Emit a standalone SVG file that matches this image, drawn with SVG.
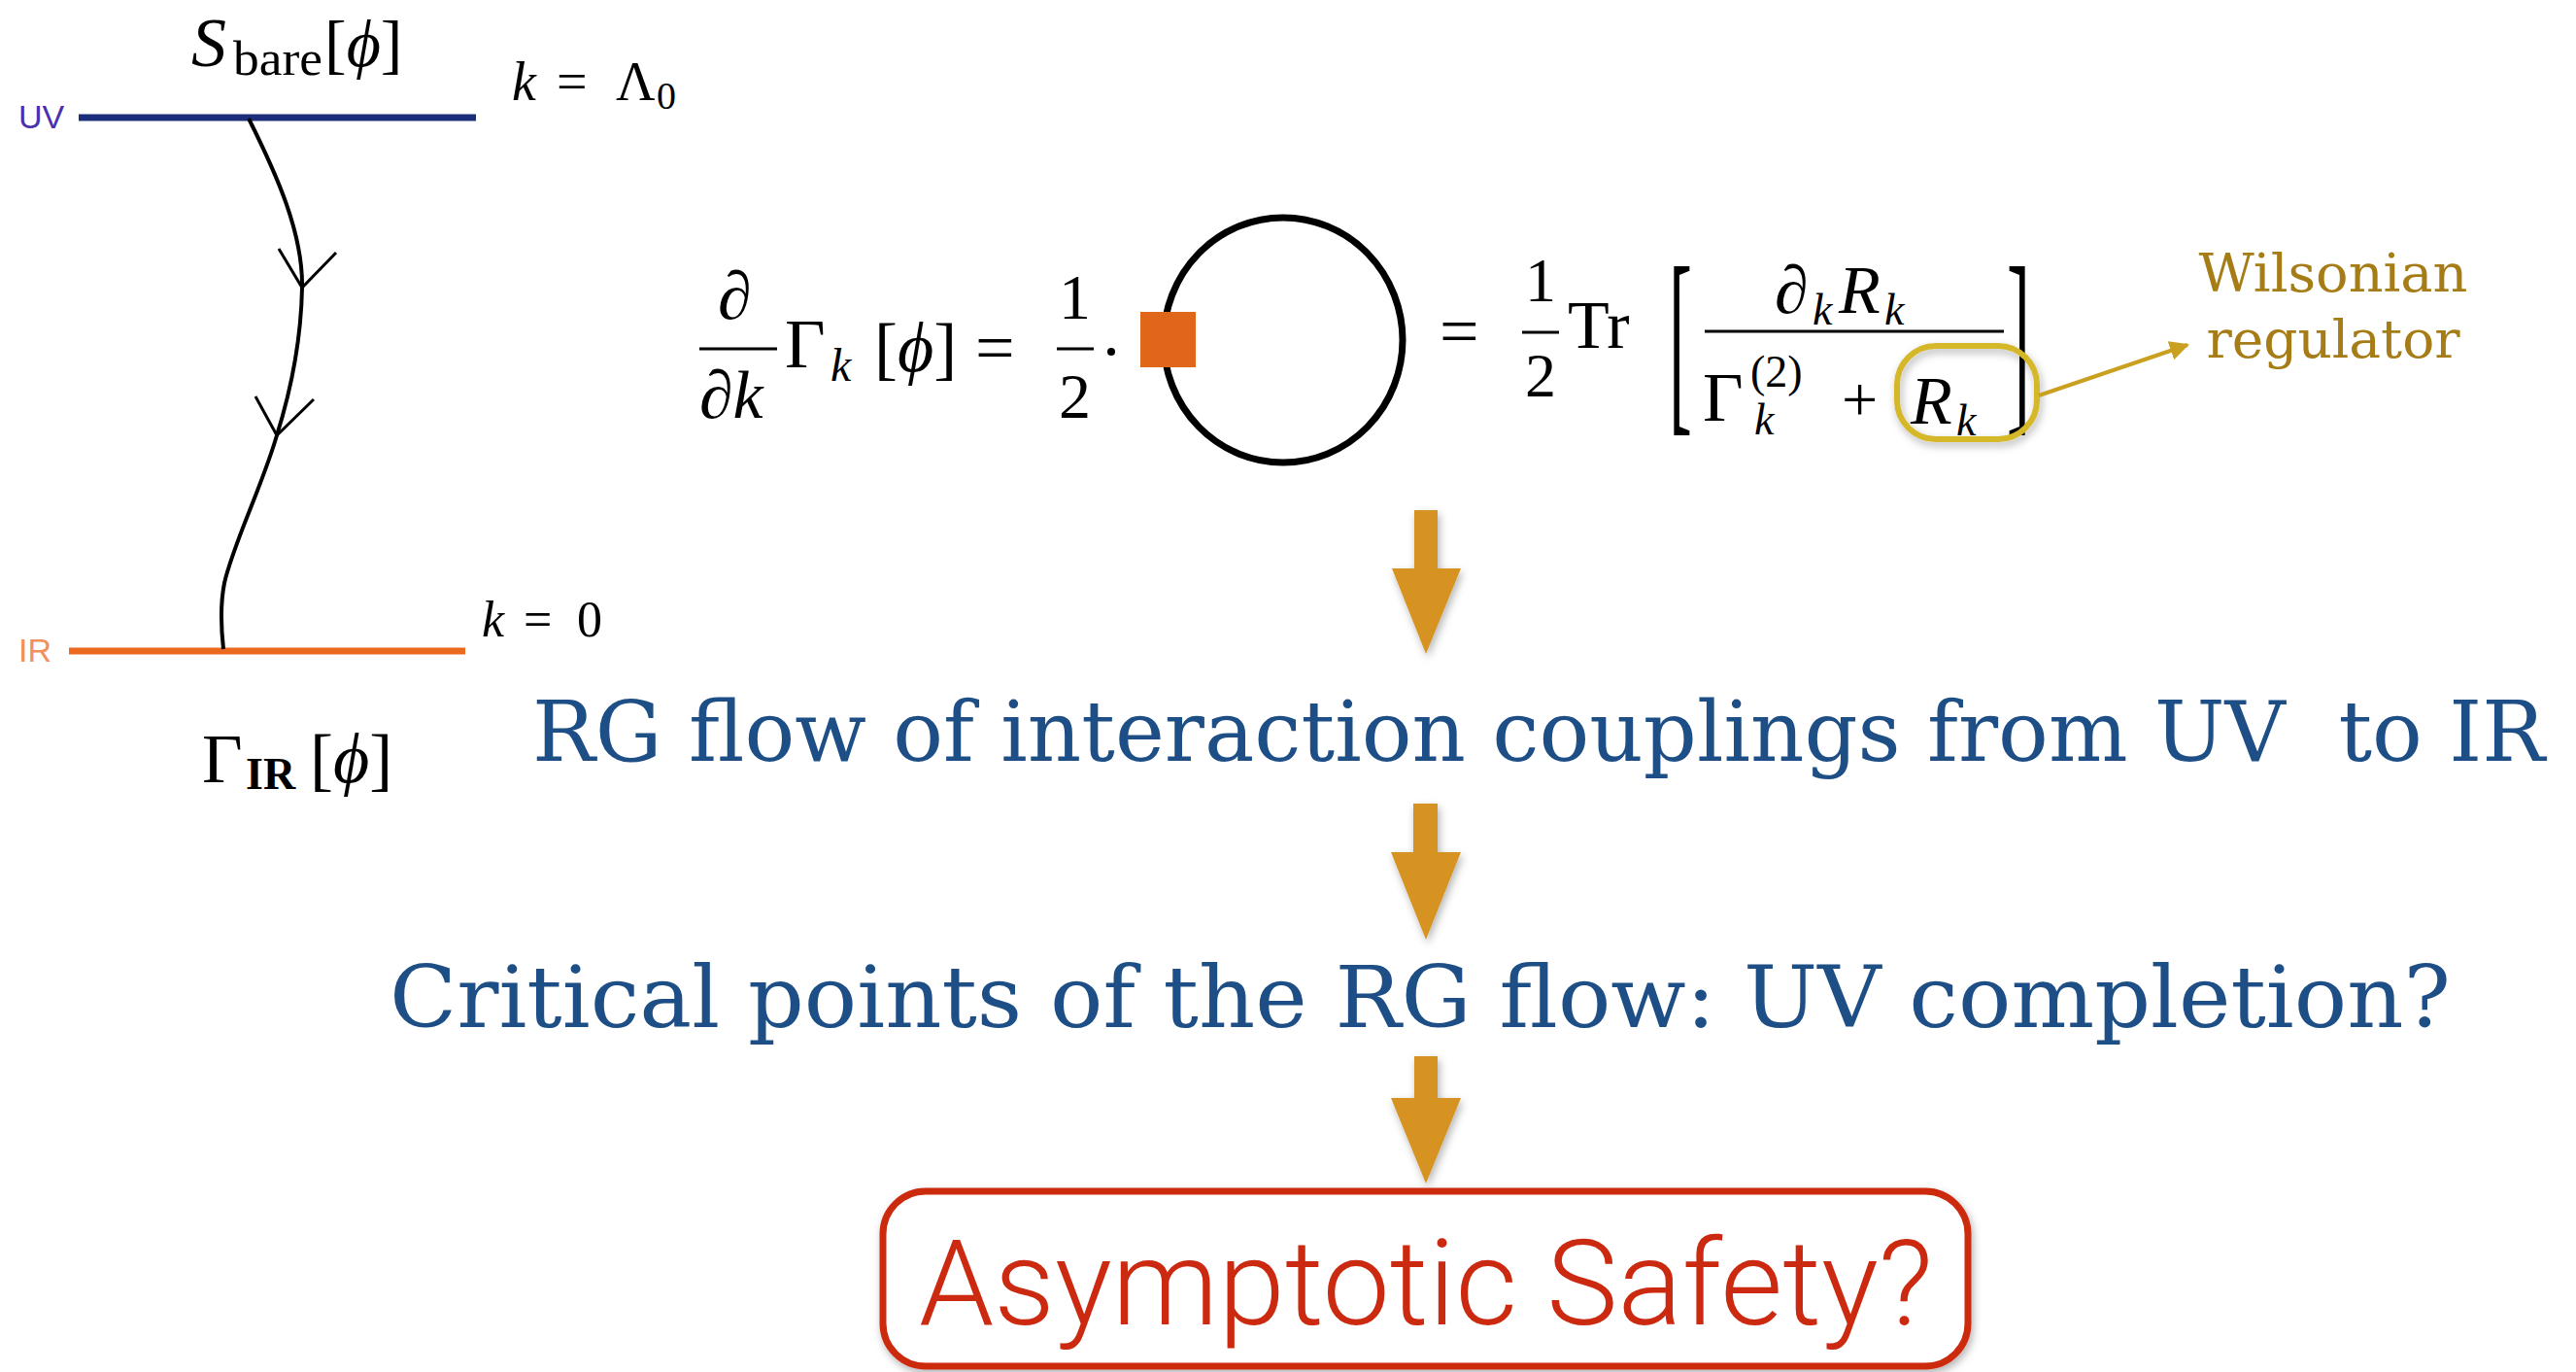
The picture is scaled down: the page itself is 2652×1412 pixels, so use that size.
<svg xmlns="http://www.w3.org/2000/svg" width="2652" height="1412" viewBox="0 0 2652 1412">
<style>
.m{font-family:"Liberation Serif","DejaVu Serif",serif;fill:#000}
.i{font-style:italic}
.slab{font-family:"DejaVu Serif","Liberation Serif",serif;fill:#1d4f86}
.lbl{font-family:"Liberation Sans",Arial,sans-serif}
.gold{font-family:"DejaVu Serif","Liberation Serif",serif;fill:#a67c16}
.bar{stroke:#000;stroke-width:3}
.down{fill:#d69324}
</style>
<defs>
<filter id="sh" x="-20%" y="-20%" width="140%" height="140%">
<feDropShadow dx="2" dy="4" stdDeviation="4" flood-color="#000" flood-opacity="0.3"/>
</filter>
<marker id="ah" viewBox="0 0 10 10" refX="9" refY="5" markerWidth="5" markerHeight="5" orient="auto" markerUnits="strokeWidth">
<path d="M0,0 L10,5 L0,10 z" fill="#c9a020"/>
</marker>
</defs>
<rect width="2652" height="1412" fill="#fff"/>

<g id="flow-diagram">
<text class="lbl" x="19" y="132" font-size="34" fill="#4b2fb0">UV</text>
<line x1="81" y1="121" x2="490" y2="121" stroke="#1c2e7a" stroke-width="7"/>
<text class="lbl" x="19" y="681" font-size="34" fill="#f0905a">IR</text>
<line x1="71" y1="670" x2="479" y2="670" stroke="#ec6a20" stroke-width="7"/>
<path d="M256,122 C285,180 312,240 311,296 C310,350 300,400 285,448 C270,500 240,560 231,600 C226,625 228,650 230,668" fill="none" stroke="#000" stroke-width="4"/>
<path d="M287,256 L311,296 L346,260 M263,408 L285,448 L323,411" fill="none" stroke="#000" stroke-width="3"/>
<text class="m i" x="197" y="68" font-size="72">S</text>
<text class="m" x="240" y="77" font-size="50" textLength="92" lengthAdjust="spacingAndGlyphs">bare</text>
<text class="m" x="334" y="68" font-size="68">[<tspan class="i">ϕ</tspan>]</text>
<text class="m i" x="527" y="103" font-size="56">k</text>
<text class="m" x="573" y="103" font-size="56">=</text>
<text class="m" x="634" y="103" font-size="56">Λ</text>
<text class="m" x="676" y="112" font-size="40">0</text>
<text class="m i" x="496" y="655" font-size="52">k</text>
<text class="m" x="539" y="655" font-size="52">=</text>
<text class="m" x="594" y="655" font-size="52">0</text>
<text class="m" x="208" y="805" font-size="72">Γ</text>
<text class="m" x="253" y="812" font-size="46" font-weight="bold">IR</text>
<text class="m" x="319" y="805" font-size="72">[<tspan class="i">ϕ</tspan>]</text>
</g>

<g id="equation">
<text class="m" x="739" y="328" font-size="70">∂</text>
<line class="bar" x1="720" y1="359" x2="800" y2="359"/>
<text class="m" x="720" y="430" font-size="70">∂<tspan class="i">k</tspan></text>
<text class="m" x="808" y="378" font-size="72">Γ</text>
<text class="m i" x="855" y="392" font-size="48">k</text>
<text class="m" x="900" y="382" font-size="72">[<tspan class="i">ϕ</tspan>]</text>
<text class="m" x="1004" y="382" font-size="72">=</text>
<text class="m" x="1090" y="328" font-size="66">1</text>
<line class="bar" x1="1088" y1="359" x2="1126" y2="359"/>
<text class="m" x="1090" y="430" font-size="66">2</text>
<circle cx="1144" cy="362" r="4" fill="#000"/>
<ellipse cx="1321" cy="350" rx="123" ry="126" fill="none" stroke="#000" stroke-width="7"/>
<rect x="1174" y="321" width="57" height="57" fill="#e0661a"/>
<text class="m" x="1482" y="365" font-size="72">=</text>
<text class="m" x="1570" y="310" font-size="64">1</text>
<line class="bar" x1="1567" y1="342" x2="1605" y2="342"/>
<text class="m" x="1570" y="408" font-size="64">2</text>
<text class="m" x="1614" y="358" font-size="70">Tr</text>
<text class="m" transform="translate(1718,420) scale(1,2.9)" font-size="72">[</text>
<text class="m" transform="translate(2066,420) scale(1,2.9)" font-size="72">]</text>
<text class="m" x="1827" y="322" font-size="70">∂</text>
<text class="m i" x="1866" y="334" font-size="46">k</text>
<text class="m i" x="1893" y="322" font-size="70">R</text>
<text class="m i" x="1940" y="334" font-size="46">k</text>
<line class="bar" x1="1755" y1="341" x2="2063" y2="341"/>
<text class="m" x="1753" y="433" font-size="72">Γ</text>
<text class="m" x="1802" y="398" font-size="46">(2)</text>
<text class="m i" x="1806" y="447" font-size="46">k</text>
<text class="m" x="1896" y="433" font-size="66">+</text>
<text class="m i" x="1967" y="436" font-size="70">R</text>
<text class="m i" x="2014" y="448" font-size="46">k</text>
</g>

<g id="regulator-label">
<rect x="1953" y="356" width="144" height="96" rx="40" fill="none" stroke="#d4b82a" stroke-width="6" filter="url(#sh)"/>
<text class="gold" x="2402" y="300" font-size="54" text-anchor="middle" textLength="277" lengthAdjust="spacingAndGlyphs">Wilsonian</text>
<text class="gold" x="2402" y="368" font-size="54" text-anchor="middle" textLength="261" lengthAdjust="spacingAndGlyphs">regulator</text>
</g>

<g id="connectors">
<line x1="2099" y1="407" x2="2252" y2="355" stroke="#c9a020" stroke-width="4" marker-end="url(#ah)"/>
<g filter="url(#sh)">
<path class="down" d="M1456,525 H1480 V585 H1504 L1468,673 L1433,585 H1456 Z"/>
<path class="down" d="M1455,827 H1480 V877 H1504 L1468,967 L1432,877 H1455 Z"/>
<path class="down" d="M1456,1087 H1480 V1130 H1504 L1468,1218 L1432,1130 H1456 Z"/>
</g>
</g>

<g id="step-rg-flow">
<text class="slab" x="548" y="783" font-size="86" textLength="2072" lengthAdjust="spacingAndGlyphs" xml:space="preserve">RG flow of interaction couplings from UV  to IR</text>
</g>

<g id="step-critical">
<text class="slab" x="401" y="1057" font-size="88" textLength="2122" lengthAdjust="spacingAndGlyphs">Critical points of the RG flow: UV completion?</text>
</g>

<g id="asymptotic-safety">
<rect x="909" y="1226" width="1117" height="180" rx="44" fill="#fff" stroke="#cc2a10" stroke-width="7" filter="url(#sh)"/>
<text x="946" y="1363" font-family="Roboto,Inter,'Liberation Sans',sans-serif" font-weight="300" font-size="122" fill="#cc2a10" textLength="1044" lengthAdjust="spacingAndGlyphs">Asymptotic Safety?</text>
</g>
</svg>
